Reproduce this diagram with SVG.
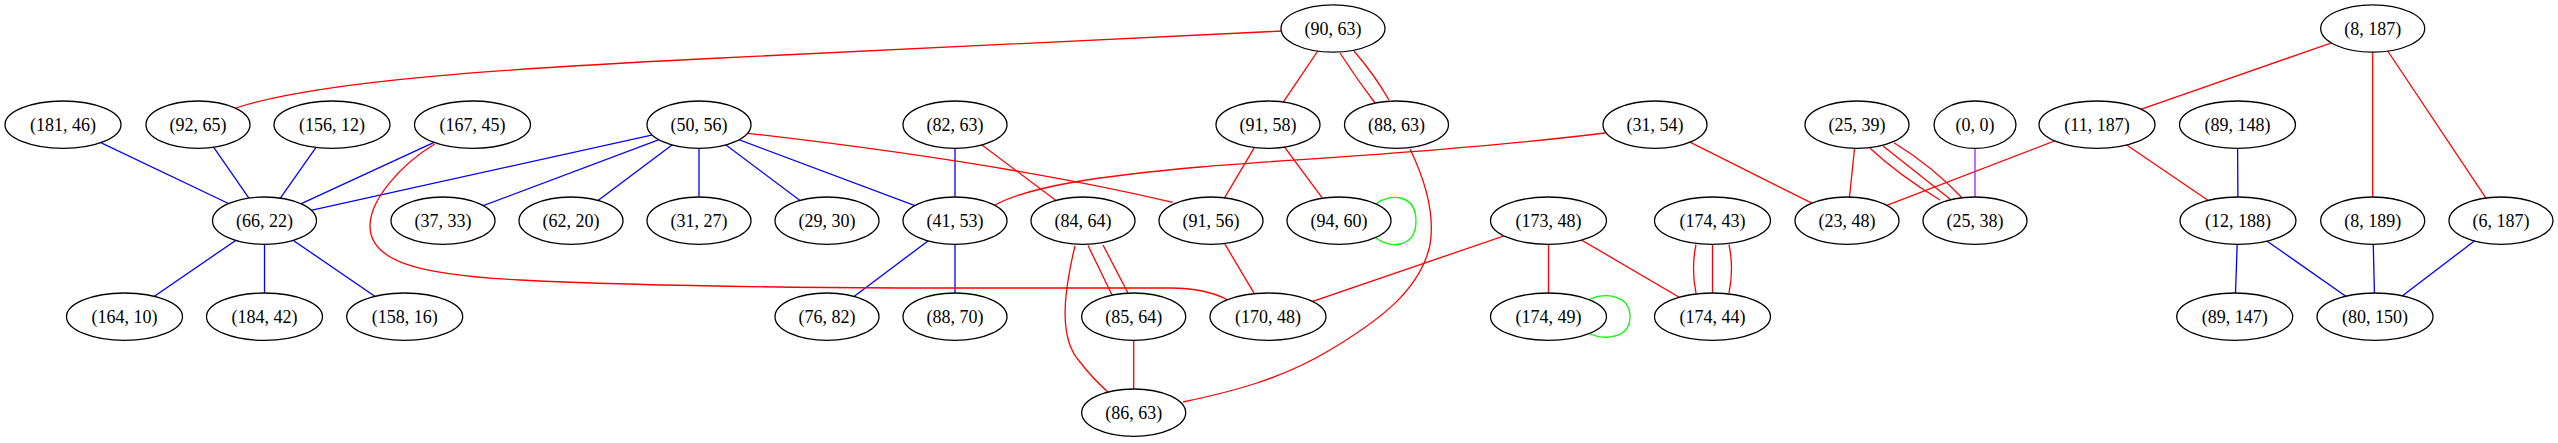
<svg xmlns="http://www.w3.org/2000/svg" width="2558" height="443" viewBox="0 0 2558 443">
<style>
.n ellipse{fill:#fff;stroke:#000;stroke-width:1.3}
.n text{font-family:"Liberation Serif","Times New Roman",serif;font-size:18px;fill:#000;text-anchor:middle}
#edges path{fill:none;stroke-width:1.3}
.r{stroke:#ff0000}.b{stroke:#0000ff}.g{stroke:#00ff00}.p{stroke:#a020f0}
</style>
<rect width="2558" height="443" fill="#fff"/>
<g id="edges">
<path class="b" d="M63,124.7 L264.5,220.7"/>
<path class="b" d="M198,124.7 L264.5,220.7"/>
<path class="b" d="M332,124.7 L264.5,220.7"/>
<path class="b" d="M472.5,124.7 L264.5,220.7"/>
<path class="b" d="M699,124.7 L264.5,220.7"/>
<path class="b" d="M699,124.7 L443,220.7"/>
<path class="b" d="M699,124.7 L571,220.7"/>
<path class="b" d="M699,124.7 L699,220.7"/>
<path class="b" d="M699,124.7 L827,220.7"/>
<path class="b" d="M699,124.7 L955,220.7"/>
<path class="b" d="M264.5,220.7 L124.5,316.7"/>
<path class="b" d="M264.5,220.7 L264.5,316.7"/>
<path class="b" d="M264.5,220.7 L404.7,316.7"/>
<path class="b" d="M955,124.7 L955,220.7"/>
<path class="b" d="M955,220.7 L827,316.7"/>
<path class="b" d="M955,220.7 L955,316.7"/>
<path class="b" d="M2237.5,124.7 L2238,220.7"/>
<path class="b" d="M2238,220.7 L2234.7,316.7"/>
<path class="b" d="M2238,220.7 L2375,316.7"/>
<path class="b" d="M2372.7,220.7 L2375,316.7"/>
<path class="b" d="M2501,220.7 L2375,316.7"/>
<path class="r" d="M236,108 C320,80 520,68 700,59 L1282,31"/>
<path class="r" d="M1333,28.5 L1268,124.7"/>
<path class="r" d="M1340,53 Q1356,78 1375,103"/>
<path class="r" d="M1354,51 Q1374,74 1389,100"/>
<path class="r" d="M434.7,144 C400,165 370,200 370,226 C370,262 420,275 520,280 C600,284 700,287 900,288 L1170,288 C1195,288 1215,293 1228,300"/>
<path class="r" d="M748,133.3 Q1000,162 1172.7,202.3"/>
<path class="r" d="M955,124.7 L1083,220.7"/>
<path class="r" d="M1268,124.7 L1211,220.7"/>
<path class="r" d="M1268,124.7 L1339,220.7"/>
<path class="r" d="M1605,133 C1450,152 1280,160 1200,167 C1100,176 1030,186 995,205"/>
<path class="r" d="M1088,245.5 L1112.5,296"/>
<path class="r" d="M1103,245 L1129.5,296"/>
<path class="r" d="M1075,246 C1062,300 1060,340 1080,362 C1090,375 1100,385 1109,393"/>
<path class="r" d="M1133.7,316.7 L1133.7,412.7"/>
<path class="r" d="M1211,220.7 L1268,316.7"/>
<path class="r" d="M1410,149 C1425,180 1435,215 1430,245 C1420,290 1380,320 1330,350 C1280,380 1230,392 1183,402"/>
<path class="r" d="M1548.5,220.7 L1268,316.7"/>
<path class="r" d="M1548.5,220.7 L1548.5,316.7"/>
<path class="r" d="M1548.5,220.7 L1712.5,316.7"/>
<path class="r" d="M1696,244.5 Q1691,268.7 1696,293"/>
<path class="r" d="M1712.5,244.5 L1712.5,293"/>
<path class="r" d="M1729,244.5 Q1734,268.7 1729,293"/>
<path class="r" d="M1655,124.7 L1847,220.7"/>
<path class="r" d="M1857,124.7 L1847,220.7"/>
<path class="r" d="M1870,148.3 Q1900,176 1940,200"/>
<path class="r" d="M1883,146 L1950,199"/>
<path class="r" d="M1894,142.7 Q1932,166 1962,197.7"/>
<path class="r" d="M2097,124.7 L1847,220.7"/>
<path class="r" d="M2372.7,28.5 L2097,124.7"/>
<path class="r" d="M2097,124.7 L2238,220.7"/>
<path class="r" d="M2372.7,28.5 L2372.7,220.7"/>
<path class="r" d="M2372.7,28.5 L2501,220.7"/>
<path class="p" d="M1975,124.7 L1975,220.7"/>
<path class="g" d="M1376,204 C1390,193 1416,194 1416,221 C1416,248 1390,249 1376,238"/>
<path class="g" d="M1590,299 C1604,293 1630,294 1630,316.7 C1630,339 1604,340 1590,334"/>
</g>
<g id="n_90_63" class="n"><ellipse cx="1333" cy="28.5" rx="52" ry="23.7"/><text x="1333" y="34.5">(90, 63)</text></g>
<g id="n_8_187" class="n"><ellipse cx="2372.7" cy="28.5" rx="52" ry="23.7"/><text x="2372.7" y="34.5">(8, 187)</text></g>
<g id="n_181_46" class="n"><ellipse cx="63" cy="124.7" rx="58" ry="23.7"/><text x="63" y="130.7">(181, 46)</text></g>
<g id="n_92_65" class="n"><ellipse cx="198" cy="124.7" rx="52" ry="23.7"/><text x="198" y="130.7">(92, 65)</text></g>
<g id="n_156_12" class="n"><ellipse cx="332" cy="124.7" rx="58" ry="23.7"/><text x="332" y="130.7">(156, 12)</text></g>
<g id="n_167_45" class="n"><ellipse cx="472.5" cy="124.7" rx="58" ry="23.7"/><text x="472.5" y="130.7">(167, 45)</text></g>
<g id="n_50_56" class="n"><ellipse cx="699" cy="124.7" rx="52" ry="23.7"/><text x="699" y="130.7">(50, 56)</text></g>
<g id="n_82_63" class="n"><ellipse cx="955" cy="124.7" rx="52" ry="23.7"/><text x="955" y="130.7">(82, 63)</text></g>
<g id="n_91_58" class="n"><ellipse cx="1268" cy="124.7" rx="52" ry="23.7"/><text x="1268" y="130.7">(91, 58)</text></g>
<g id="n_88_63" class="n"><ellipse cx="1396.5" cy="124.7" rx="52" ry="23.7"/><text x="1396.5" y="130.7">(88, 63)</text></g>
<g id="n_31_54" class="n"><ellipse cx="1655" cy="124.7" rx="52" ry="23.7"/><text x="1655" y="130.7">(31, 54)</text></g>
<g id="n_25_39" class="n"><ellipse cx="1857" cy="124.7" rx="52" ry="23.7"/><text x="1857" y="130.7">(25, 39)</text></g>
<g id="n_0_0" class="n"><ellipse cx="1975" cy="124.7" rx="41" ry="23.7"/><text x="1975" y="130.7">(0, 0)</text></g>
<g id="n_11_187" class="n"><ellipse cx="2097" cy="124.7" rx="58" ry="23.7"/><text x="2097" y="130.7">(11, 187)</text></g>
<g id="n_89_148" class="n"><ellipse cx="2237.5" cy="124.7" rx="58" ry="23.7"/><text x="2237.5" y="130.7">(89, 148)</text></g>
<g id="n_66_22" class="n"><ellipse cx="264.5" cy="220.7" rx="52" ry="23.7"/><text x="264.5" y="226.7">(66, 22)</text></g>
<g id="n_37_33" class="n"><ellipse cx="443" cy="220.7" rx="52" ry="23.7"/><text x="443" y="226.7">(37, 33)</text></g>
<g id="n_62_20" class="n"><ellipse cx="571" cy="220.7" rx="52" ry="23.7"/><text x="571" y="226.7">(62, 20)</text></g>
<g id="n_31_27" class="n"><ellipse cx="699" cy="220.7" rx="52" ry="23.7"/><text x="699" y="226.7">(31, 27)</text></g>
<g id="n_29_30" class="n"><ellipse cx="827" cy="220.7" rx="52" ry="23.7"/><text x="827" y="226.7">(29, 30)</text></g>
<g id="n_41_53" class="n"><ellipse cx="955" cy="220.7" rx="52" ry="23.7"/><text x="955" y="226.7">(41, 53)</text></g>
<g id="n_84_64" class="n"><ellipse cx="1083" cy="220.7" rx="52" ry="23.7"/><text x="1083" y="226.7">(84, 64)</text></g>
<g id="n_91_56" class="n"><ellipse cx="1211" cy="220.7" rx="52" ry="23.7"/><text x="1211" y="226.7">(91, 56)</text></g>
<g id="n_94_60" class="n"><ellipse cx="1339" cy="220.7" rx="52" ry="23.7"/><text x="1339" y="226.7">(94, 60)</text></g>
<g id="n_173_48" class="n"><ellipse cx="1548.5" cy="220.7" rx="58" ry="23.7"/><text x="1548.5" y="226.7">(173, 48)</text></g>
<g id="n_174_43" class="n"><ellipse cx="1712.5" cy="220.7" rx="58" ry="23.7"/><text x="1712.5" y="226.7">(174, 43)</text></g>
<g id="n_23_48" class="n"><ellipse cx="1847" cy="220.7" rx="52" ry="23.7"/><text x="1847" y="226.7">(23, 48)</text></g>
<g id="n_25_38" class="n"><ellipse cx="1975" cy="220.7" rx="52" ry="23.7"/><text x="1975" y="226.7">(25, 38)</text></g>
<g id="n_12_188" class="n"><ellipse cx="2238" cy="220.7" rx="58" ry="23.7"/><text x="2238" y="226.7">(12, 188)</text></g>
<g id="n_8_189" class="n"><ellipse cx="2372.7" cy="220.7" rx="52" ry="23.7"/><text x="2372.7" y="226.7">(8, 189)</text></g>
<g id="n_6_187" class="n"><ellipse cx="2501" cy="220.7" rx="52" ry="23.7"/><text x="2501" y="226.7">(6, 187)</text></g>
<g id="n_164_10" class="n"><ellipse cx="124.5" cy="316.7" rx="58" ry="23.7"/><text x="124.5" y="322.7">(164, 10)</text></g>
<g id="n_184_42" class="n"><ellipse cx="264.5" cy="316.7" rx="58" ry="23.7"/><text x="264.5" y="322.7">(184, 42)</text></g>
<g id="n_158_16" class="n"><ellipse cx="404.7" cy="316.7" rx="58" ry="23.7"/><text x="404.7" y="322.7">(158, 16)</text></g>
<g id="n_76_82" class="n"><ellipse cx="827" cy="316.7" rx="52" ry="23.7"/><text x="827" y="322.7">(76, 82)</text></g>
<g id="n_88_70" class="n"><ellipse cx="955" cy="316.7" rx="52" ry="23.7"/><text x="955" y="322.7">(88, 70)</text></g>
<g id="n_85_64" class="n"><ellipse cx="1133.7" cy="316.7" rx="52" ry="23.7"/><text x="1133.7" y="322.7">(85, 64)</text></g>
<g id="n_170_48" class="n"><ellipse cx="1268" cy="316.7" rx="58" ry="23.7"/><text x="1268" y="322.7">(170, 48)</text></g>
<g id="n_174_49" class="n"><ellipse cx="1548.5" cy="316.7" rx="58" ry="23.7"/><text x="1548.5" y="322.7">(174, 49)</text></g>
<g id="n_174_44" class="n"><ellipse cx="1712.5" cy="316.7" rx="58" ry="23.7"/><text x="1712.5" y="322.7">(174, 44)</text></g>
<g id="n_89_147" class="n"><ellipse cx="2234.7" cy="316.7" rx="58" ry="23.7"/><text x="2234.7" y="322.7">(89, 147)</text></g>
<g id="n_80_150" class="n"><ellipse cx="2375" cy="316.7" rx="58" ry="23.7"/><text x="2375" y="322.7">(80, 150)</text></g>
<g id="n_86_63" class="n"><ellipse cx="1133.7" cy="412.7" rx="52" ry="23.7"/><text x="1133.7" y="418.7">(86, 63)</text></g>
</svg>
